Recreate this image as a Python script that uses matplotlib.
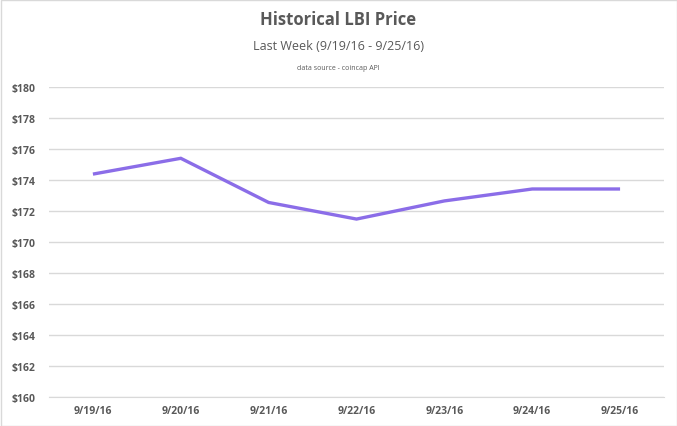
import matplotlib
matplotlib.use("Agg")
import matplotlib.pyplot as plt
from matplotlib.ticker import FuncFormatter, MultipleLocator

fechas = ["9/19/16", "9/20/16", "9/21/16", "9/22/16", "9/23/16", "9/24/16", "9/25/16"]
precio = [174.38, 175.40, 172.55, 171.48, 172.65, 173.42, 173.42]

GRIS = "#595959"; LINEA = "#8B6DE8"; REJILLA = "#D9D9D9"
plt.rcParams.update({"font.family": ["Open Sans", "DejaVu Sans"]})

fig = plt.figure(figsize=(6.77, 4.27), dpi=100)
ax = fig.add_axes([49/677, 1-398/427, 615/677, 310/427])
x = range(len(fechas))
ax.plot(x, precio, color=LINEA, lw=2.4, solid_capstyle="butt", solid_joinstyle="miter")
ax.set_xlim(-0.5, len(fechas)-0.5)
ax.set_ylim(160, 180)
ax.yaxis.set_major_locator(MultipleLocator(2))
ax.yaxis.set_major_formatter(FuncFormatter(lambda v, _: f"${v:.0f}"))
ax.set_xticks(list(x)); ax.set_xticklabels(fechas)
ax.grid(axis="y", color=REJILLA, lw=1)
ax.set_axisbelow(True)
for s in ["top", "right", "left"]: ax.spines[s].set_visible(False)
ax.spines["bottom"].set_color(REJILLA)
ax.tick_params(length=0, colors=GRIS, labelsize=7.5)
ax.tick_params(axis="y", pad=10)
ax.tick_params(axis="x", pad=6)
for t in ax.get_xticklabels() + ax.get_yticklabels(): t.set_fontweight("bold")

fig.text(0.5, 1-20/427, "Historical LBI Price", ha="center", va="center",
         fontsize=12, fontweight="bold", color=GRIS)
fig.text(0.5, 1-47/427, "Last Week (9/19/16 - 9/25/16)", ha="center", va="center",
         fontsize=9, color=GRIS)
fig.text(0.5, 1-68/427, "data source - coincap API", ha="center", va="center",
         fontsize=5, color=GRIS)
fig.add_artist(plt.Rectangle((0.5/677, 0.5/427), 1-1/677, 1-1/427, transform=fig.transFigure,
                             fill=False, ec="#D9D9D9", lw=1))
fig.savefig("out.png", dpi=100)
